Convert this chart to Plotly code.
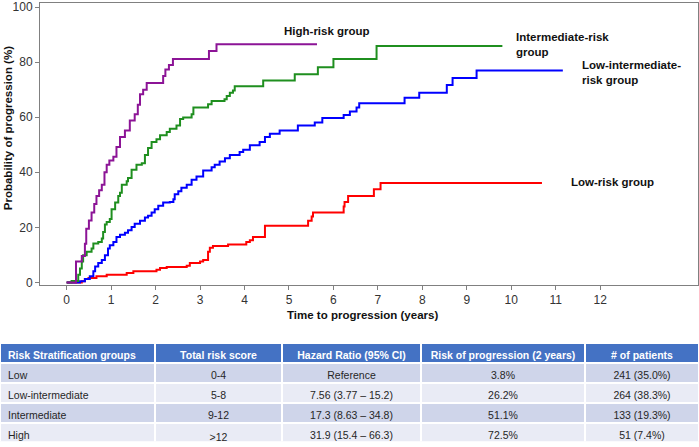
import plotly.graph_objects as go

# ---- data ----
high_t = [0, 0.21, 0.34, 0.41, 0.44, 0.50, 0.56, 0.62, 0.67, 0.73, 0.79, 0.85, 0.90, 0.96, 1.05, 1.12,
          1.20, 1.31, 1.42, 1.53, 1.60, 1.65, 1.72, 1.80, 2.17, 2.22, 2.30, 2.39, 3.20, 3.37, 5.63]
high_y = [0, 7.6, 9.6, 14, 19.5, 22.5, 25.4, 28.5, 31.4, 33.5, 35.5, 40, 42.7, 44.3, 45.6, 49.2,
          52.8, 55.2, 58.8, 61.1, 64.5, 68.3, 70, 72.4, 75, 77.3, 79, 81.1, 84, 86.5, 86.5]

inter_t = [0, 0.11, 0.26, 0.30, 0.34, 0.37, 0.45, 0.56, 0.60, 0.71, 0.79, 0.82, 0.86, 0.90, 0.97, 1.01,
           1.09, 1.16, 1.20, 1.24, 1.35, 1.38, 1.46, 1.57, 1.69, 1.76, 1.83, 1.91, 2.02, 2.10, 2.25,
           2.32, 2.47, 2.55, 2.62, 2.81, 2.85, 3.18, 3.26, 3.55, 3.60, 3.67, 3.74, 3.78, 4.42, 5.13,
           5.65, 6.00, 6.97, 9.80]
inter_y = [0, 0.5, 2.8, 5, 7.6, 9.9, 11.1, 12.3, 14.1, 14.7, 15.9, 18.3, 21, 21.9, 23, 26.6,
           29, 31.4, 32.6, 35.5, 36.7, 37.9, 40.9, 42.7, 43.3, 46.3, 48.8, 51, 52, 53.4, 54.6,
           55.8, 57, 59.3, 59.9, 61.1, 63.5, 64.7, 65.9, 66.5, 67.7, 68.9, 69.7, 71.2, 73.3, 75.6,
           78.1, 81.1, 85.9, 85.9]

lowint_t = [0, 0.30, 0.41, 0.52, 0.60, 0.64, 0.71, 0.79, 0.86, 0.93, 0.97, 1.05, 1.12, 1.20, 1.31,
            1.38, 1.46, 1.53, 1.65, 1.76, 1.83, 1.91, 1.98, 2.06, 2.17, 2.32, 2.40, 2.43, 2.51, 2.58,
            2.70, 2.81, 2.92, 3.07, 3.26, 3.33, 3.44, 3.56, 3.67, 3.89, 3.97, 4.12, 4.34, 4.46, 4.57,
            4.79, 5.20, 5.58, 5.75, 6.23, 6.37, 6.52, 6.58, 7.60, 7.93, 8.55, 8.68, 9.22, 11.16]
lowint_y = [0, 0.4, 1.2, 2.2, 4, 5.8, 7, 8.1, 9.9, 12.3, 13.5, 14.7, 16.5, 17.3, 18,
            18.9, 20.1, 21.3, 22.4, 23.6, 24.2, 25.4, 26.6, 27.8, 29, 29.2, 30.2, 32, 33.1, 34.4,
            35.5, 37.3, 38.5, 40.6, 41.8, 42.7, 43.9, 45.1, 46.3, 47.4, 48.2, 49.8, 51, 52.8, 54,
            55.2, 57, 58.1, 59.7, 60.8, 62.1, 63.5, 65.1, 67.1, 68.9, 71.7, 74.2, 77, 77]

low_t = [0, 0.34, 0.41, 0.49, 0.67, 0.90, 1.35, 1.50, 2.02, 2.10, 2.25, 2.70, 2.77, 3.00, 3.07, 3.18,
         3.22, 3.29, 3.63, 4.04, 4.12, 4.19, 4.46, 5.43, 5.51, 5.54, 6.23, 6.25, 6.33, 6.91, 7.06, 10.69]
low_y = [0, 0.4, 1.2, 1.6, 2.2, 2.8, 3.4, 4, 4.6, 5.2, 5.6, 6, 7, 7.6, 8.1, 11.1,
         12.6, 13.2, 13.8, 14.7, 15.3, 16.5, 20.6, 22.4, 23.9, 25.4, 27.6, 29.2, 31.4, 33.8, 36.1, 36.1]

x_ticks = list(range(0, 13))
y_ticks = [0, 20, 40, 60, 80, 100]

tbl_header = ["Risk Stratification groups", "Total risk score", "Hazard Ratio (95% CI)",
              "Risk of progression (2 years)", "# of patients"]
tbl_groups = ["Low", "Low-intermediate", "Intermediate", "High"]
tbl_score = ["0-4", "5-8", "9-12", ">12"]
tbl_hr = ["Reference", "7.56 (3.77 \u2013 15.2)", "17.3 (8.63 \u2013 34.8)", "31.9 (15.4 \u2013 66.3)"]
tbl_risk2 = ["3.8%", "26.2%", "51.1%", "72.5%"]
tbl_pat = ["241 (35.0%)", "264 (38.3%)", "133 (19.3%)", "51 (7.4%)"]

# ---- figure ----
W, H = 699, 447
FONT = "Liberation Sans, Arial, sans-serif"
fig = go.Figure()

series = [
    (low_t, low_y, "#FF0000"),
    (lowint_t, lowint_y, "#0000FF"),
    (inter_t, inter_y, "#1F8F1F"),
    (high_t, high_y, "#8C1496"),
]
for t, y, c in series:
    fig.add_trace(go.Scatter(x=t, y=y, mode="lines", line=dict(color=c, width=2, shape="hv"),
                             showlegend=False, hoverinfo="skip"))

row_cols = ["#CFD5EA", "#E9EBF5", "#CFD5EA", "#E9EBF5"]
fig.add_trace(go.Table(
    domain=dict(x=[0, 1], y=[0, 1 - 346.5 / H]),
    columnwidth=[155, 127, 139, 164, 114],
    header=dict(values=tbl_header,
                fill_color="#4472C4", line=dict(color="white", width=2),
                align=["left", "center", "center", "center", "center"],
                font=dict(family=FONT, size=10.5, color="white", weight="bold"), height=20),
    cells=dict(values=[tbl_groups, tbl_score, tbl_hr, tbl_risk2, tbl_pat],
               fill_color=[row_cols] * 5, line=dict(color="white", width=2),
               align=["left", "center", "center", "center", "center"],
               font=dict(family=FONT, size=10.5, color="#262626"), height=20),
))

axis_common = dict(showline=True, linecolor="#808080", linewidth=1, mirror=True,
                   ticks="outside", ticklen=4, tickcolor="#808080", showgrid=False,
                   zeroline=False, ticklabeloverflow="allow",
                   tickfont=dict(family=FONT, size=12, color="#333333"))

fig.update_layout(
    width=W, height=H, margin=dict(l=0, r=0, t=0, b=0),
    paper_bgcolor="white", plot_bgcolor="white",
    font=dict(family=FONT),
    xaxis=dict(domain=[40 / W, 698 / W], range=[-0.6, 14.2], tickvals=x_ticks, **axis_common),
    yaxis=dict(domain=[1 - 287 / H, 1 - 0.5 / H], range=[-0.9, 101.3], tickvals=y_ticks, **axis_common),
)

lab_font = dict(family=FONT, size=11.5, color="#111111", weight="bold")
labels = [
    (4.84, 91.2, "High-risk group"),
    (10.07, 86.3, "Intermediate-risk<br>group"),
    (11.55, 76.1, "Low-intermediate-<br>risk group"),
    (11.29, 36.5, "Low-risk group"),
]
for x, y, txt in labels:
    fig.add_annotation(x=x, y=y, xref="x", yref="y", text=txt, showarrow=False,
                       xanchor="left", yanchor="middle", align="left", font=lab_font)

fig.add_annotation(x=8 / W, y=1 - 127.5 / H, xref="paper", yref="paper",
                   text="Probability of progression (%)", textangle=-90, showarrow=False,
                   xanchor="center", yanchor="middle", font=lab_font)
fig.add_annotation(x=362 / W, y=1 - 318 / H, xref="paper", yref="paper",
                   text="Time to progression (years)", showarrow=False,
                   xanchor="center", yanchor="middle", font=lab_font)

fig.write_html("out.html", config={"displayModeBar": False},
               post_script="document.body.style.margin='0px';")
